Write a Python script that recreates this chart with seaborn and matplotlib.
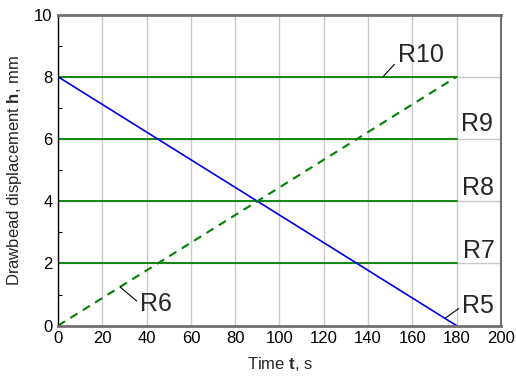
import matplotlib
matplotlib.use("Agg")
import matplotlib.pyplot as plt
from matplotlib.ticker import MultipleLocator
import numpy as np
import pandas as pd
import seaborn as sns

# Drawbead displacement programmes over the forming time
time_span = [0, 180]
constant_levels = {"R7": 2, "R8": 4, "R9": 6, "R10": 8}
r5_height = [8, 0]   # retracting bead
r6_height = [0, 8]   # advancing bead

x_ticks = [0, 20, 40, 60, 80, 100, 120, 140, 160, 180, 200]
y_ticks = [0, 2, 4, 6, 8, 10]

rows = []
for name, level in constant_levels.items():
    for t in time_span:
        rows.append({"series": name, "t": t, "h": level})
for t, h in zip(time_span, r5_height):
    rows.append({"series": "R5", "t": t, "h": h})
for t, h in zip(time_span, r6_height):
    rows.append({"series": "R6", "t": t, "h": h})
df = pd.DataFrame(rows)

sns.set_theme(style="white")
plt.rcParams["font.family"] = ["Liberation Sans", "DejaVu Sans"]
plt.rcParams["mathtext.fontset"] = "custom"
plt.rcParams["mathtext.rm"] = "Liberation Sans"
plt.rcParams["mathtext.bf"] = "Liberation Sans:bold"

fig = plt.figure(figsize=(5.16, 3.78), dpi=100)
ax = fig.add_axes([0.1124, 0.1384, 0.8585, 0.8232])

green = "#008000"
blue = "#0000ee"

for name in constant_levels:
    sub = df[df.series == name]
    sns.lineplot(data=sub, x="t", y="h", ax=ax, color=green, lw=1.3)
sns.lineplot(data=df[df.series == "R5"], x="t", y="h", ax=ax, color=blue, lw=1.2)
sns.lineplot(data=df[df.series == "R6"], x="t", y="h", ax=ax, color=green,
             lw=1.5, dashes=False)
ax.lines[-1].set_linestyle((0, (4, 3)))

ax.set_xlim(0, 200)
ax.set_ylim(0, 10)
ax.set_xticks(x_ticks)
ax.set_yticks(y_ticks)
ax.yaxis.set_minor_locator(MultipleLocator(1))
ax.grid(True, which="major", color="#c8c8c8", lw=1.0)
ax.set_axisbelow(True)

ax.tick_params(axis="both", which="major", labelsize=12, colors="black",
               direction="in", length=0, pad=4)
ax.tick_params(axis="y", which="minor", direction="in", length=3,
               width=0.8, color="black", left=True)

for side, col, lw in [("top", "#707070", 2.0), ("bottom", "#707070", 2.0),
                      ("left", "black", 1.0), ("right", "#707070", 1.5)]:
    ax.spines[side].set_color(col)
    ax.spines[side].set_linewidth(lw)
    ax.spines[side].set_visible(True)

ax.set_xlabel("Time $\\mathbf{t}$, s", fontsize=12, labelpad=6)
ax.set_ylabel("Drawbead displacement $\\mathbf{h}$, mm", fontsize=12, labelpad=7)

# curve labels
label_size = 18
ax.text(182.0, 6.27, "R9", fontsize=label_size, ha="left", va="baseline")
ax.text(182.6, 4.20, "R8", fontsize=label_size, ha="left", va="baseline")
ax.text(182.9, 2.17, "R7", fontsize=label_size, ha="left", va="baseline")

leader = dict(arrowstyle="-", color="black", lw=0.8, shrinkA=0, shrinkB=0)
ax.annotate("R10", xy=(146.7, 8.0), xytext=(153.4, 8.48), fontsize=label_size,
            ha="left", va="baseline", arrowprops=dict(leader, relpos=(0, 0.25)))
ax.annotate("R6", xy=(28, 28 * 8 / 180), xytext=(37.0, 0.48), fontsize=label_size,
            ha="left", va="baseline", arrowprops=dict(leader, relpos=(0, 0.5)))
ax.annotate("R5", xy=(174.7, (180 - 174.7) * 8 / 180), xytext=(182.4, 0.40),
            fontsize=label_size, ha="left", va="baseline",
            arrowprops=dict(leader, relpos=(0, 0.5)))

fig.savefig("out.png", dpi=100)
